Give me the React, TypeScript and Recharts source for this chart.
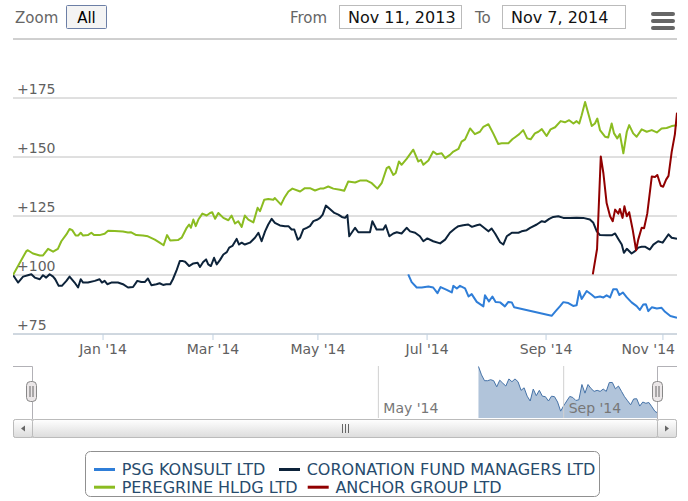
import React from 'react';
import { LineChart, Line, XAxis, YAxis, CartesianGrid, AreaChart, Area, ReferenceLine } from 'recharts';

const FONT = '"DejaVu Sans", Verdana, sans-serif';

// trading-session index (0 = Nov 11 2013, 250 = Nov 7 2014) at month starts
const monthTicks = [33.9, 75.3, 114.8, 155.9, 200.7, 244.7];
const monthLabels = ["Jan '14", "Mar '14", "May '14", "Jul '14", "Sep '14", "Nov '14"];
const yTicks = [75, 100, 125, 150, 175, 200];

const seriesNames = ['PSG KONSULT LTD', 'CORONATION FUND MANAGERS LTD', 'PEREGRINE HLDG LTD', 'ANCHOR GROUP LTD'];
const seriesColors = ['#2f7ed8', '#0d233a', '#8bbc21', '#910000'];

const psg: [number, number][] = [[148.8,100.3],[150.1,97],[152.0,94.7],[153.9,94.7],[156.4,95.1],[158.2,94.7],[159.8,92.3],[161.0,94.9],[163.3,93.7],[165.2,92.6],[165.8,95.4],[167.1,94.3],[168.3,95.4],[170.2,94.3],[171.5,90.9],[172.7,91.9],[174.6,88.6],[177.1,86.7],[177.7,91.4],[179.2,88.8],[180.5,90.9],[181.7,88.6],[183.4,88.4],[185.2,86.7],[186.5,88.6],[187.8,88.4],[188.7,86.3],[202.8,82.7],[204.4,84.8],[205.9,86.7],[207.2,88.5],[209.1,88.1],[210.9,86.9],[212.2,87.2],[213.2,93.2],[214.1,89.8],[216.0,93.2],[217.9,91.6],[219.1,90.5],[221.0,90.9],[222.3,90.5],[223.5,91.4],[224.8,90.5],[226.0,94],[227.3,94],[228.3,91.5],[229.6,92.6],[231.1,90.5],[232.9,88.4],[234.8,86.8],[236.0,85.2],[237.3,87.5],[238.3,87.6],[239.2,84.7],[240.5,86.3],[242.4,85.8],[244.2,86.1],[245.5,84.4],[247.5,82.6],[250,81.9]];

const coronation: [number, number][] = [[0,100],[1.9,96.8],[3.8,99.3],[5.6,99.9],[6.9,100.3],[8.2,98.9],[10.1,98.2],[11.3,99.9],[12.5,98.9],[13.8,100.3],[15.1,99.3],[15.9,98.2],[17.2,95.4],[18.4,95.4],[20.1,97.5],[21.3,99.3],[23.2,96.8],[24.5,94.7],[25.5,98.2],[26.4,96.8],[28.2,96.8],[30.8,97.5],[32.6,98.2],[33.5,96.8],[34.5,97.5],[35.5,96.1],[37.0,96.8],[39.5,96.8],[41.4,96.1],[43.3,94.7],[45.2,94.9],[46.8,97.5],[48.3,97],[49.6,97],[50.8,98.5],[52.1,95.7],[54.0,96.1],[55.2,96.5],[56.5,95.8],[57.7,96.1],[59.2,96.1],[60.2,98.2],[61.5,101.7],[62.8,105.9],[64.0,105.9],[64.8,105.6],[66.3,103.8],[67.9,104.9],[69.5,105.2],[70.4,103.4],[71.6,105.5],[72.7,106.6],[73.5,104.5],[74.5,103.8],[75.7,107.3],[76.7,104.5],[77.9,106.3],[79.2,108.7],[80.5,109.7],[81.4,111.6],[82.6,112.3],[84.2,115.3],[85.1,112.9],[86.1,113.7],[87.3,112.9],[89.2,113.7],[91.1,115.8],[92.4,117.9],[93.6,114.3],[94.9,118.5],[96.1,121.4],[97.4,123.8],[98.6,122.1],[100.5,121],[102.4,120.7],[103.7,120.7],[104.9,119.3],[105.9,119.3],[107.2,115],[108.1,115.8],[109.3,119.3],[110.6,120],[111.8,120.7],[113.1,122.8],[114.7,123.5],[115.6,124.2],[116.6,125.6],[117.8,129.4],[119.3,128],[121.0,126.3],[122.5,125.6],[123.8,124.6],[125.0,124.2],[125.9,125.4],[126.6,116.4],[128.8,120],[130.0,118.1],[134.4,118.1],[135.3,122.8],[136.9,119.3],[139.4,119.3],[140.3,121.1],[141.7,116.4],[143.2,117.6],[144.5,118.1],[146.3,117.6],[148.2,120],[149.5,118.5],[151.4,117.9],[153.2,116.4],[154.5,114.3],[156.0,115.5],[158.2,114.3],[160.8,113.4],[162.7,115],[164.5,117.9],[166.4,119.7],[167.7,120.7],[169.5,121.1],[171.4,121.4],[172.8,120.4],[174.6,121.1],[175.8,121.4],[177.7,119.7],[179.0,118.5],[180.2,119.7],[181.5,117.6],[183.4,113.9],[184.6,112.9],[185.9,116.4],[187.8,117.9],[190.3,117.9],[191.5,118.5],[193.4,119],[194.7,120],[197.2,121.4],[199.1,122.8],[200.3,122.5],[201.9,123.8],[203.4,124.6],[205.3,124.9],[207.2,124.2],[209.7,124.2],[212.2,124.3],[214.7,124.2],[217.2,123.5],[218.5,122.1],[219.8,118.5],[221.0,116.9],[223.5,116.8],[225.4,116.8],[226.7,117.6],[227.9,115.3],[229.2,112.9],[230.0,109.4],[231.1,111.1],[232.9,109.1],[234.2,110.1],[235.4,111.6],[236.7,112],[237.9,112],[239.8,110.8],[241.1,112.9],[242.9,114.3],[244.6,113.7],[245.9,115.8],[246.8,117.2],[248.0,115.8],[250,115.3]];

const peregrine: [number, number][] = [[0,100],[5.0,110.1],[5.6,110.5],[7.5,109.1],[10.1,108.3],[11.3,108.3],[13.2,111.1],[15.1,109.9],[16.9,111.1],[18.2,114.3],[20.1,117.2],[21.3,119.5],[22.3,119],[23.6,116.7],[24.5,116.7],[25.5,117.9],[26.4,116.7],[28.2,116.9],[29.5,117.9],[30.5,116.9],[32.6,116.9],[34.5,117.5],[35.8,118.8],[38.3,118.6],[41.4,118.4],[43.3,118],[44.5,118.1],[46.4,116.9],[48.9,116.7],[50.8,116.4],[53.4,115],[55.2,113.7],[56.7,112.6],[58.0,116.9],[59.2,114.6],[62.1,114.8],[63.5,115.8],[65.4,120],[66.3,121.4],[67.0,120],[67.9,123.5],[68.8,120.7],[69.8,123.5],[71.3,126],[72.9,125.2],[74.2,126.3],[75.0,126.6],[76.1,123.8],[77.3,126.3],[79.2,124.2],[81.1,123.2],[82.3,125.2],[83.6,121.8],[84.8,122.8],[86.1,120.4],[87.3,125.2],[88.6,123.5],[90.5,122.3],[92.1,128.5],[93.0,127],[94.6,131.9],[96.1,132.2],[98.0,131.9],[98.6,132.6],[100.9,129.8],[102.1,132.6],[103.7,135.4],[105.2,136.6],[108.1,135.4],[109.9,136.8],[111.8,136.8],[113.7,135.8],[115.6,136.6],[116.8,136.6],[118.7,137.5],[120.6,136.6],[123.1,136.1],[124.7,135.7],[126.2,139.6],[128.8,139.2],[130.6,140],[133.2,140],[135.1,138.9],[137.2,136.6],[138.8,138.9],[140.7,145.3],[141.6,145.9],[143.2,142.4],[144.1,143.2],[145.3,148.1],[146.3,146.7],[148.2,149.2],[150.7,153.1],[152.6,148.1],[153.6,148.8],[154.5,146.7],[156.4,148.5],[158.2,152.3],[159.5,151.2],[161.4,151.6],[162.7,149.5],[164.5,150.9],[165.8,152.3],[167.7,153.4],[168.9,156.5],[170.2,157.5],[172.1,162.1],[173.9,159.7],[175.8,160.7],[177.1,162.8],[179.0,163.9],[180.8,160],[182.7,155.5],[184.0,155.8],[186.5,155.8],[188.0,157.5],[189.3,158.6],[190.6,159.7],[192.1,161.4],[193.6,157.9],[194.9,157.5],[196.5,160],[197.8,160.7],[199.1,161.8],[200.9,158.9],[202.4,161.7],[204.1,162.6],[206.2,165.2],[207.8,164.7],[209.4,165.6],[211.0,164.2],[212.2,165.2],[213.2,164.2],[214.1,167.7],[215.4,173.3],[216.6,168.4],[217.9,163.1],[219.1,164.2],[220.0,166.3],[221.0,161.4],[222.9,158.6],[224.1,158.3],[225.4,164.2],[226.3,160],[227.5,157.9],[228.5,159.7],[229.8,151.6],[231.1,160.7],[232.0,163.5],[233.5,160],[234.8,158.6],[236.7,161.7],[238.6,160.7],[240.5,161.4],[242.4,160.4],[244.2,162.1],[246.1,162.3],[248.0,163.1],[250,163.5]];

const anchor: [number, number][] = [[218.3,100.3],[219.9,111],[221.3,150.2],[222.3,143],[223.5,130.5],[224.8,124.9],[225.8,122.8],[226.7,127.7],[227.9,126],[228.5,128],[229.5,124.2],[230.2,129.1],[231.1,124.9],[232.0,126.6],[233.3,119.3],[234.6,110.5],[235.4,115],[236.7,120],[237.6,119.8],[238.8,126],[240.5,141.7],[241.7,141.5],[242.6,142.4],[243.9,137.8],[244.8,137.4],[245.9,140.4],[246.8,142],[248.0,152.2],[249.2,159.6],[250,168.8]];

// navigator: ordinal positions of the PSG points; month marks in the same units
const navTicks = [-32.9, 28.0];
const navLabels = ["May '14", "Sep '14"];

const toRows = (s: [number, number][]) => s.map(([day, v]) => ({ day, v }));
const seriesData = [psg, coronation, peregrine, anchor].map(toRows);
const navData = psg.map(([, v], i) => ({ i, v }));

const YTick = (props: any) => {
  const { y, payload } = props;
  if (payload.value === 200) return <g />;
  return (
    <text x={17} y={y - 4} fill="#606060" fontSize={14} fontFamily={FONT}>
      {'+' + payload.value}
    </text>
  );
};

const XTick = (props: any) => {
  const { x, payload, index } = props;
  const last = index === monthLabels.length - 1;
  return (
    <text x={last ? 675 : x} y={354} textAnchor={last ? 'end' : 'middle'} fill="#606060" fontSize={14} fontFamily={FONT}>
      {monthLabels[index] ?? payload.value}
    </text>
  );
};

const NavLabel = (idx: number) => (props: any) => {
  const vb = props.viewBox || {};
  return (
    <text x={(vb.x ?? 0) + 5} y={(vb.y ?? 0) + 47} fill="#777" fontSize={14} fontFamily={FONT}>
      {navLabels[idx]}
    </text>
  );
};

const legendPos = [
  { x: 94, y: 475 },
  { x: 279, y: 475 },
  { x: 94, y: 492.7 },
  { x: 307.7, y: 492.7 },
];

export default function App() {
  return (
    <div style={{ position: 'absolute', left: 0, top: 0, width: 688, height: 501, background: '#fff', fontFamily: FONT }}>
      <div style={{ position: 'absolute', left: 0, top: 0 }}>
        <LineChart width={688} height={364} margin={{ top: 39, right: 11, left: 12, bottom: 0 }}>
          <CartesianGrid vertical={false} stroke="#C0C0C0" />
          <ReferenceLine y={200} stroke="#C0C0C0" ifOverflow="visible" />
          <XAxis
            type="number"
            dataKey="day"
            domain={[0, 250]}
            ticks={monthTicks}
            allowDataOverflow
            height={30}
            stroke="#C0D0E0"
            tickSize={6}
            tick={<XTick />}
            interval={0}
          />
          <YAxis
            type="number"
            domain={[75, 200]}
            ticks={yTicks}
            width={1}
            axisLine={false}
            tickLine={false}
            tick={<YTick />}
            interval={0}
          />
          {seriesData.map((d, k) => (
            <Line
              key={k}
              data={d}
              dataKey="v"
              type="linear"
              stroke={seriesColors[k]}
              strokeWidth={2}
              dot={false}
              activeDot={false}
              isAnimationActive={false}
              strokeLinejoin="round"
            />
          ))}
        </LineChart>
      </div>
      <div style={{ position: 'absolute', left: 32.5, top: 366 }}>
        <AreaChart width={625} height={52} data={navData} margin={{ top: 0, right: 0, left: 0, bottom: 0 }}>
          <XAxis type="number" dataKey="i" domain={[-146.4, 59]} hide />
          <YAxis type="number" domain={[80, 100.5]} hide />
          {navTicks.map((t, k) => (
            <ReferenceLine key={t} x={t} stroke="#D0D0D0" label={NavLabel(k)} ifOverflow="visible" />
          ))}
          <Area
            dataKey="v"
            type="linear"
            stroke="#4572A7"
            strokeWidth={1}
            fill="#4572A7"
            fillOpacity={0.42}
            isAnimationActive={false}
            dot={false}
            activeDot={false}
          />
        </AreaChart>
      </div>
      <svg width={688} height={501} style={{ position: 'absolute', left: 0, top: 0, pointerEvents: 'none' }}>
        <defs>
          <linearGradient id="btn" x1="0" y1="0" x2="0" y2="1">
            <stop offset="0" stopColor="#ffffff" />
            <stop offset="1" stopColor="#dcdcdc" />
          </linearGradient>
          <linearGradient id="track" x1="0" y1="0" x2="0" y2="1">
            <stop offset="0" stopColor="#eeeeee" />
            <stop offset="1" stopColor="#ffffff" />
          </linearGradient>
        </defs>
        {/* range selector */}
        <text x={15} y={23} fontSize={15} fill="#666" fontFamily={FONT}>Zoom</text>
        <rect x={66.5} y={5.5} width={40} height={23} rx={1} fill="#f4f4f4" stroke="#6c7fa6" strokeWidth={1} />
        <text x={86.5} y={23} fontSize={15} fill="#000" textAnchor="middle" fontFamily={FONT}>All</text>
        <text x={290} y={23} fontSize={15} fill="#666" fontFamily={FONT}>From</text>
        <rect x={339.5} y={5.5} width={122} height={23} fill="#fff" stroke="#bbb" />
        <text x={348} y={23} fontSize={16} fill="#111" fontFamily={FONT}>Nov 11, 2013</text>
        <text x={475} y={23} fontSize={15} fill="#666" fontFamily={FONT}>To</text>
        <rect x={502.5} y={5.5} width={123} height={23} fill="#fff" stroke="#bbb" />
        <text x={511} y={23} fontSize={16} fill="#111" fontFamily={FONT}>Nov 7, 2014</text>
        {[12, 19, 26].map((yy) => (
          <rect key={yy} x={651} y={yy} width={24} height={4} rx={2} fill="#666" />
        ))}
        {/* navigator outline */}
        <path d="M13,366.5 H32.5 V419 M657.5,419 V366.5 H677" fill="none" stroke="#b2b1b6" strokeWidth={1} />
        {[31.5, 657.5].map((hx) => (
          <g key={hx}>
            <rect x={hx - 5} y={381.5} width={10} height={20} rx={4} fill="#ebe7e8" stroke="#888" />
            <line x1={hx - 1.5} y1={386} x2={hx - 1.5} y2={397} stroke="#666" />
            <line x1={hx + 1.5} y1={386} x2={hx + 1.5} y2={397} stroke="#666" />
          </g>
        ))}
        {/* scrollbar */}
        <rect x={13.5} y={419.5} width={663} height={18} fill="url(#track)" stroke="#ccc" rx={2} />
        <rect x={32.5} y={419.5} width={625} height={18} fill="url(#btn)" stroke="#bbb" rx={2} />
        <rect x={13.5} y={419.5} width={19} height={18} fill="url(#btn)" stroke="#bbb" rx={2} />
        <rect x={657.5} y={419.5} width={19} height={18} fill="url(#btn)" stroke="#bbb" rx={2} />
        <path d="M25,425.5 L21,428.5 L25,431.5 Z" fill="#666" />
        <path d="M665,425.5 L669,428.5 L665,431.5 Z" fill="#666" />
        {[342.5, 345.5, 348.5].map((rx) => (
          <line key={rx} x1={rx} y1={424} x2={rx} y2={433} stroke="#666" />
        ))}
        {/* legend */}
        <rect x={85.5} y={451.5} width={514} height={45} rx={5} fill="#fff" stroke="#909090" />
        {seriesNames.map((name, k) => (
          <g key={name}>
            <line x1={legendPos[k].x} y1={legendPos[k].y - 5.5} x2={legendPos[k].x + 21} y2={legendPos[k].y - 5.5} stroke={seriesColors[k]} strokeWidth={3} />
            <text x={legendPos[k].x + 27.7} y={legendPos[k].y} fontSize={16} fill="#274b6d" fontFamily={FONT}>{name}</text>
          </g>
        ))}
      </svg>
    </div>
  );
}
